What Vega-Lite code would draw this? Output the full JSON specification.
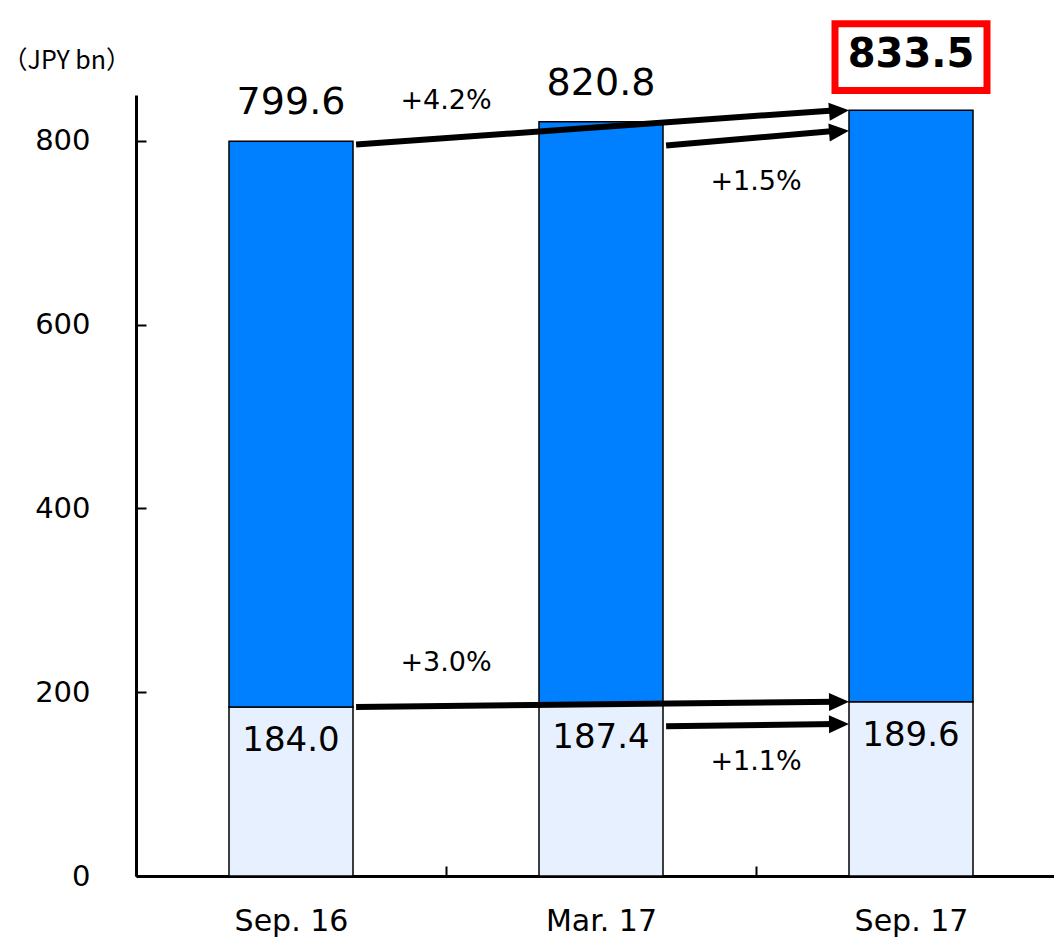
{
  "$schema": "https://vega.github.io/schema/vega-lite/v6.json",
  "width": 918,
  "height": 781,
  "autosize": {"type": "none"},
  "padding": {"left": 136, "top": 95, "right": 0, "bottom": 63},
  "background": "white",
  "config": {"view": {"stroke": null}, "font": "DejaVu Sans", "text": {"font": "DejaVu Sans", "color": "black"}},
  "datasets": {
    "bars": [
      {"period": "Sep. 16", "lower": 184.0, "total": 799.6},
      {"period": "Mar. 17", "lower": 187.4, "total": 820.8},
      {"period": "Sep. 17", "lower": 189.6, "total": 833.5}
    ],
    "arrows": [
      {"period": "Sep. 16", "target": "Sep. 17", "kind": "long", "level": "upper", "start": 796, "end": 833.5, "label": "+4.2%"},
      {"period": "Mar. 17", "target": "Sep. 17", "kind": "short", "level": "upper", "start": 795, "end": 811, "label": "+1.5%"},
      {"period": "Sep. 16", "target": "Sep. 17", "kind": "long", "level": "lower", "start": 184.0, "end": 189.6, "label": "+3.0%"},
      {"period": "Mar. 17", "target": "Sep. 17", "kind": "short", "level": "lower", "start": 163, "end": 165.4, "label": "+1.1%"}
    ]
  },
  "layer": [
    {
      "data": {"name": "bars"},
      "mark": {"type": "bar", "width": {"band": 0.4}, "color": "#E6F0FF", "stroke": "black", "strokeWidth": 1.5},
      "encoding": {
        "x": {
          "field": "period", "type": "nominal", "title": null,
          "scale": {"domain": ["Sep. 16", "Mar. 17", "Sep. 17"], "range": [0, 930], "paddingInner": 0, "paddingOuter": 0},
          "axis": {"title": null, "labelAngle": 0, "labelFontSize": 30, "labelColor": "black", "labelPadding": 40, "tickBand": "extent", "tickSize": -10, "tickWidth": 2, "tickColor": "black", "domainColor": "black", "domainWidth": 3, "grid": false}
        },
        "y": {
          "field": "lower", "type": "quantitative", "title": "（JPY bn）",
          "scale": {"domain": [0, 850], "nice": false},
          "axis": {"values": [0, 200, 400, 600, 800], "grid": false, "labelFontSize": 29, "labelColor": "black", "labelPadding": 56, "tickSize": -10, "tickWidth": 2, "tickColor": "black", "domainColor": "black", "domainWidth": 3, "titleAngle": 0, "titleAlign": "left", "titleBaseline": "middle", "titleX": -134, "titleY": -35, "titleFont": "Noto Sans CJK JP", "titleFontSize": 25, "titleFontWeight": "normal", "titleColor": "black"}
        }
      }
    },
    {
      "data": {"name": "bars"},
      "mark": {"type": "bar", "width": {"band": 0.4}, "color": "#0080FF", "stroke": "black", "strokeWidth": 1.5},
      "encoding": {
        "x": {"field": "period", "type": "nominal", "title": null},
        "y": {"field": "total", "type": "quantitative"},
        "y2": {"field": "lower"}
      }
    },
    {
      "data": {"name": "arrows"},
      "mark": {"type": "rule", "color": "black", "strokeWidth": 6},
      "encoding": {
        "x": {"field": "period", "type": "nominal", "bandPosition": 0.71, "title": null},
        "x2": {"field": "target", "bandPosition": 0.26},
        "y": {"field": "start", "type": "quantitative"},
        "y2": {"field": "end"}
      }
    },
    {
      "data": {"name": "arrows"},
      "mark": {"type": "point", "shape": "M0,0 L-2,-0.9 L-2,0.9 Z", "size": 400, "filled": true, "color": "black", "opacity": 1},
      "encoding": {
        "x": {"field": "target", "type": "nominal", "bandPosition": 0.3, "title": null},
        "y": {"field": "end", "type": "quantitative"},
        "angle": {"condition": {"test": "datum.level === 'upper'", "value": -4.5}, "value": -0.6}
      }
    },
    {
      "data": {"name": "bars"},
      "transform": [{"filter": "datum.period !== 'Sep. 17'"}],
      "mark": {"type": "text", "fontSize": 38, "baseline": "alphabetic", "dy": -27},
      "encoding": {
        "x": {"field": "period", "type": "nominal", "title": null},
        "y": {"field": "total", "type": "quantitative"},
        "text": {"field": "total", "type": "quantitative", "format": ".1f"}
      }
    },
    {
      "data": {"name": "bars"},
      "transform": [{"filter": "datum.period === 'Sep. 17'"}],
      "mark": {"type": "text", "fontSize": 40, "fontWeight": "bold", "baseline": "alphabetic", "dy": -43},
      "encoding": {
        "x": {"field": "period", "type": "nominal", "title": null},
        "y": {"field": "total", "type": "quantitative"},
        "text": {"field": "total", "type": "quantitative", "format": ".1f"}
      }
    },
    {
      "data": {"name": "bars"},
      "transform": [{"filter": "datum.period === 'Sep. 17'"}],
      "mark": {"type": "point", "shape": "M-1,-0.44 L1,-0.44 L1,0.44 L-1,0.44 Z", "size": 23104, "filled": false, "stroke": "#FF0000", "strokeWidth": 7, "opacity": 1, "yOffset": -53},
      "encoding": {
        "x": {"field": "period", "type": "nominal", "title": null},
        "y": {"field": "total", "type": "quantitative"}
      }
    },
    {
      "data": {"name": "bars"},
      "mark": {"type": "text", "fontSize": 34, "baseline": "alphabetic", "dy": 44},
      "encoding": {
        "x": {"field": "period", "type": "nominal", "title": null},
        "y": {"field": "lower", "type": "quantitative"},
        "text": {"field": "lower", "type": "quantitative", "format": ".1f"}
      }
    },
    {
      "data": {"name": "arrows"},
      "transform": [{"filter": "datum.kind === 'long'"}],
      "mark": {"type": "text", "fontSize": 27, "baseline": "alphabetic", "dy": -36},
      "encoding": {
        "x": {"field": "period", "type": "nominal", "bandPosition": 1, "title": null},
        "y": {"field": "start", "type": "quantitative"},
        "text": {"field": "label", "type": "nominal"}
      }
    },
    {
      "data": {"name": "arrows"},
      "transform": [{"filter": "datum.kind === 'short'"}],
      "mark": {"type": "text", "fontSize": 27, "baseline": "alphabetic", "dy": 44},
      "encoding": {
        "x": {"field": "period", "type": "nominal", "bandPosition": 1, "title": null},
        "y": {"field": "start", "type": "quantitative"},
        "text": {"field": "label", "type": "nominal"}
      }
    }
  ]
}
